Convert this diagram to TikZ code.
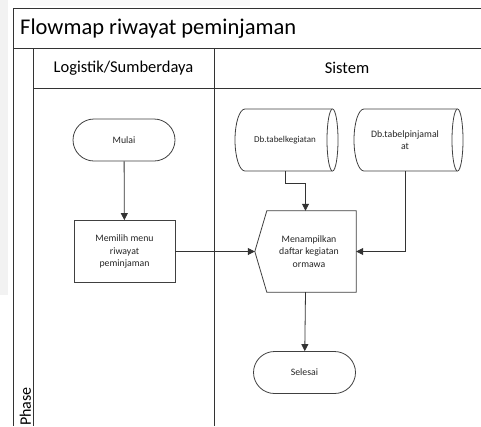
\documentclass[tikz,border=0pt]{standalone}
\usepackage{fontspec}
\setmainfont{Carlito}
\usetikzlibrary{shapes.geometric,shapes.misc,arrows.meta,calc}
\begin{document}
\begin{tikzpicture}[x=1pt,y=-1pt,
  frame/.style={draw=black!80,line width=1pt},
  outl/.style={draw=black!75,line width=0.8pt,fill=white},
  txt/.style={font=\fontsize{9.8}{12.5}\selectfont,align=center,text=black!85},
  shp/.style={outl,txt},
  term/.style={shp,rounded rectangle,minimum width=102pt,minimum height=42pt,inner sep=0pt},
  proc/.style={shp,rectangle,minimum width=101pt,minimum height=62pt,inner sep=0pt},
  dbtext/.style={txt,minimum width=80pt,minimum height=62pt,inner sep=0pt},
  conn/.style={draw=black!80,line width=0.8pt,-{Triangle[length=7pt,width=7pt]}}]
\useasboundingbox (0,0) rectangle (481,426);
% faint background
\fill[gray!10] (0,0) rectangle (8,295);
\fill[gray!5] (30,0) rectangle (250,6);
% frame
\draw[frame] (13,8) -- (481,8);
\draw[frame] (13,8) -- (13,426);
\draw[frame] (13,48) -- (481,48);
\draw[frame] (33,48) -- (33,426);
\draw[frame] (33,88) -- (481,88);
\draw[frame] (214,48) -- (214,426);
\node[anchor=west,font=\fontsize{22.5}{25}\selectfont,inner sep=0pt] (title) at (20,29) {Flowmap riwayat peminjaman};
\node[font=\fontsize{16.5}{19}\selectfont] (lane1) at (123.5,68) {Logistik/Sumberdaya};
\node[font=\fontsize{16.5}{19}\selectfont] (lane2) at (347,68) {Sistem};
\node[rotate=90,anchor=west,font=\fontsize{16}{18}\selectfont,inner sep=0pt] (phase) at (25.5,426) {Phase};
% nodes
\node[term] (mulai) at (124,140) {Mulai};
\node[proc] (memilih) at (124.5,251.5) {Memilih menu\\riwayat\\peminjaman};
% database cylinders
\draw[outl] (245,109) -- (332.5,109) arc[start angle=90,end angle=-90,x radius=5.5pt,y radius=31pt]
  -- (245,171) arc[start angle=270,end angle=90,x radius=10pt,y radius=31pt] -- cycle;
\draw[outl] (332.5,109) arc[start angle=90,end angle=270,x radius=5.5pt,y radius=31pt];
\node[dbtext,font=\fontsize{9}{12.5}\selectfont] (dbk) at (285,140) {Db.tabelkegiatan};
\draw[outl] (364,109) -- (457.5,109) arc[start angle=90,end angle=-90,x radius=5.5pt,y radius=31pt]
  -- (364,171) arc[start angle=270,end angle=90,x radius=10pt,y radius=31pt] -- cycle;
\draw[outl] (457.5,109) arc[start angle=90,end angle=270,x radius=5.5pt,y radius=31pt];
\node[dbtext] (dbp) at (405,140) {Db.tabelpinjamal\\at};
% display
\node[minimum width=101pt,minimum height=81pt,inner sep=0pt] (disp) at (305.5,251.5) {};
\draw[outl] (disp.west) -- ($(disp.north west)+(12,0)$) -- (disp.north east) -- (disp.south east) -- ($(disp.south west)+(12,0)$) -- cycle;
\node[txt] (disptext) at (309,251.5) {Menampilkan\\daftar kegiatan\\ormawa};
\node[term] (selesai) at (304.5,372.5) {Selesai};
% connectors
\draw[conn] (mulai) -- (memilih);
\draw[conn] (memilih.east) -- (disp.west);
\draw[conn] (dbk.south) -- ++(0,12) -| (disp.north);
\draw[conn] (dbp.south) |- (disp.east);
\draw[conn] (disp.south) -- (selesai);
\end{tikzpicture}
\end{document}
